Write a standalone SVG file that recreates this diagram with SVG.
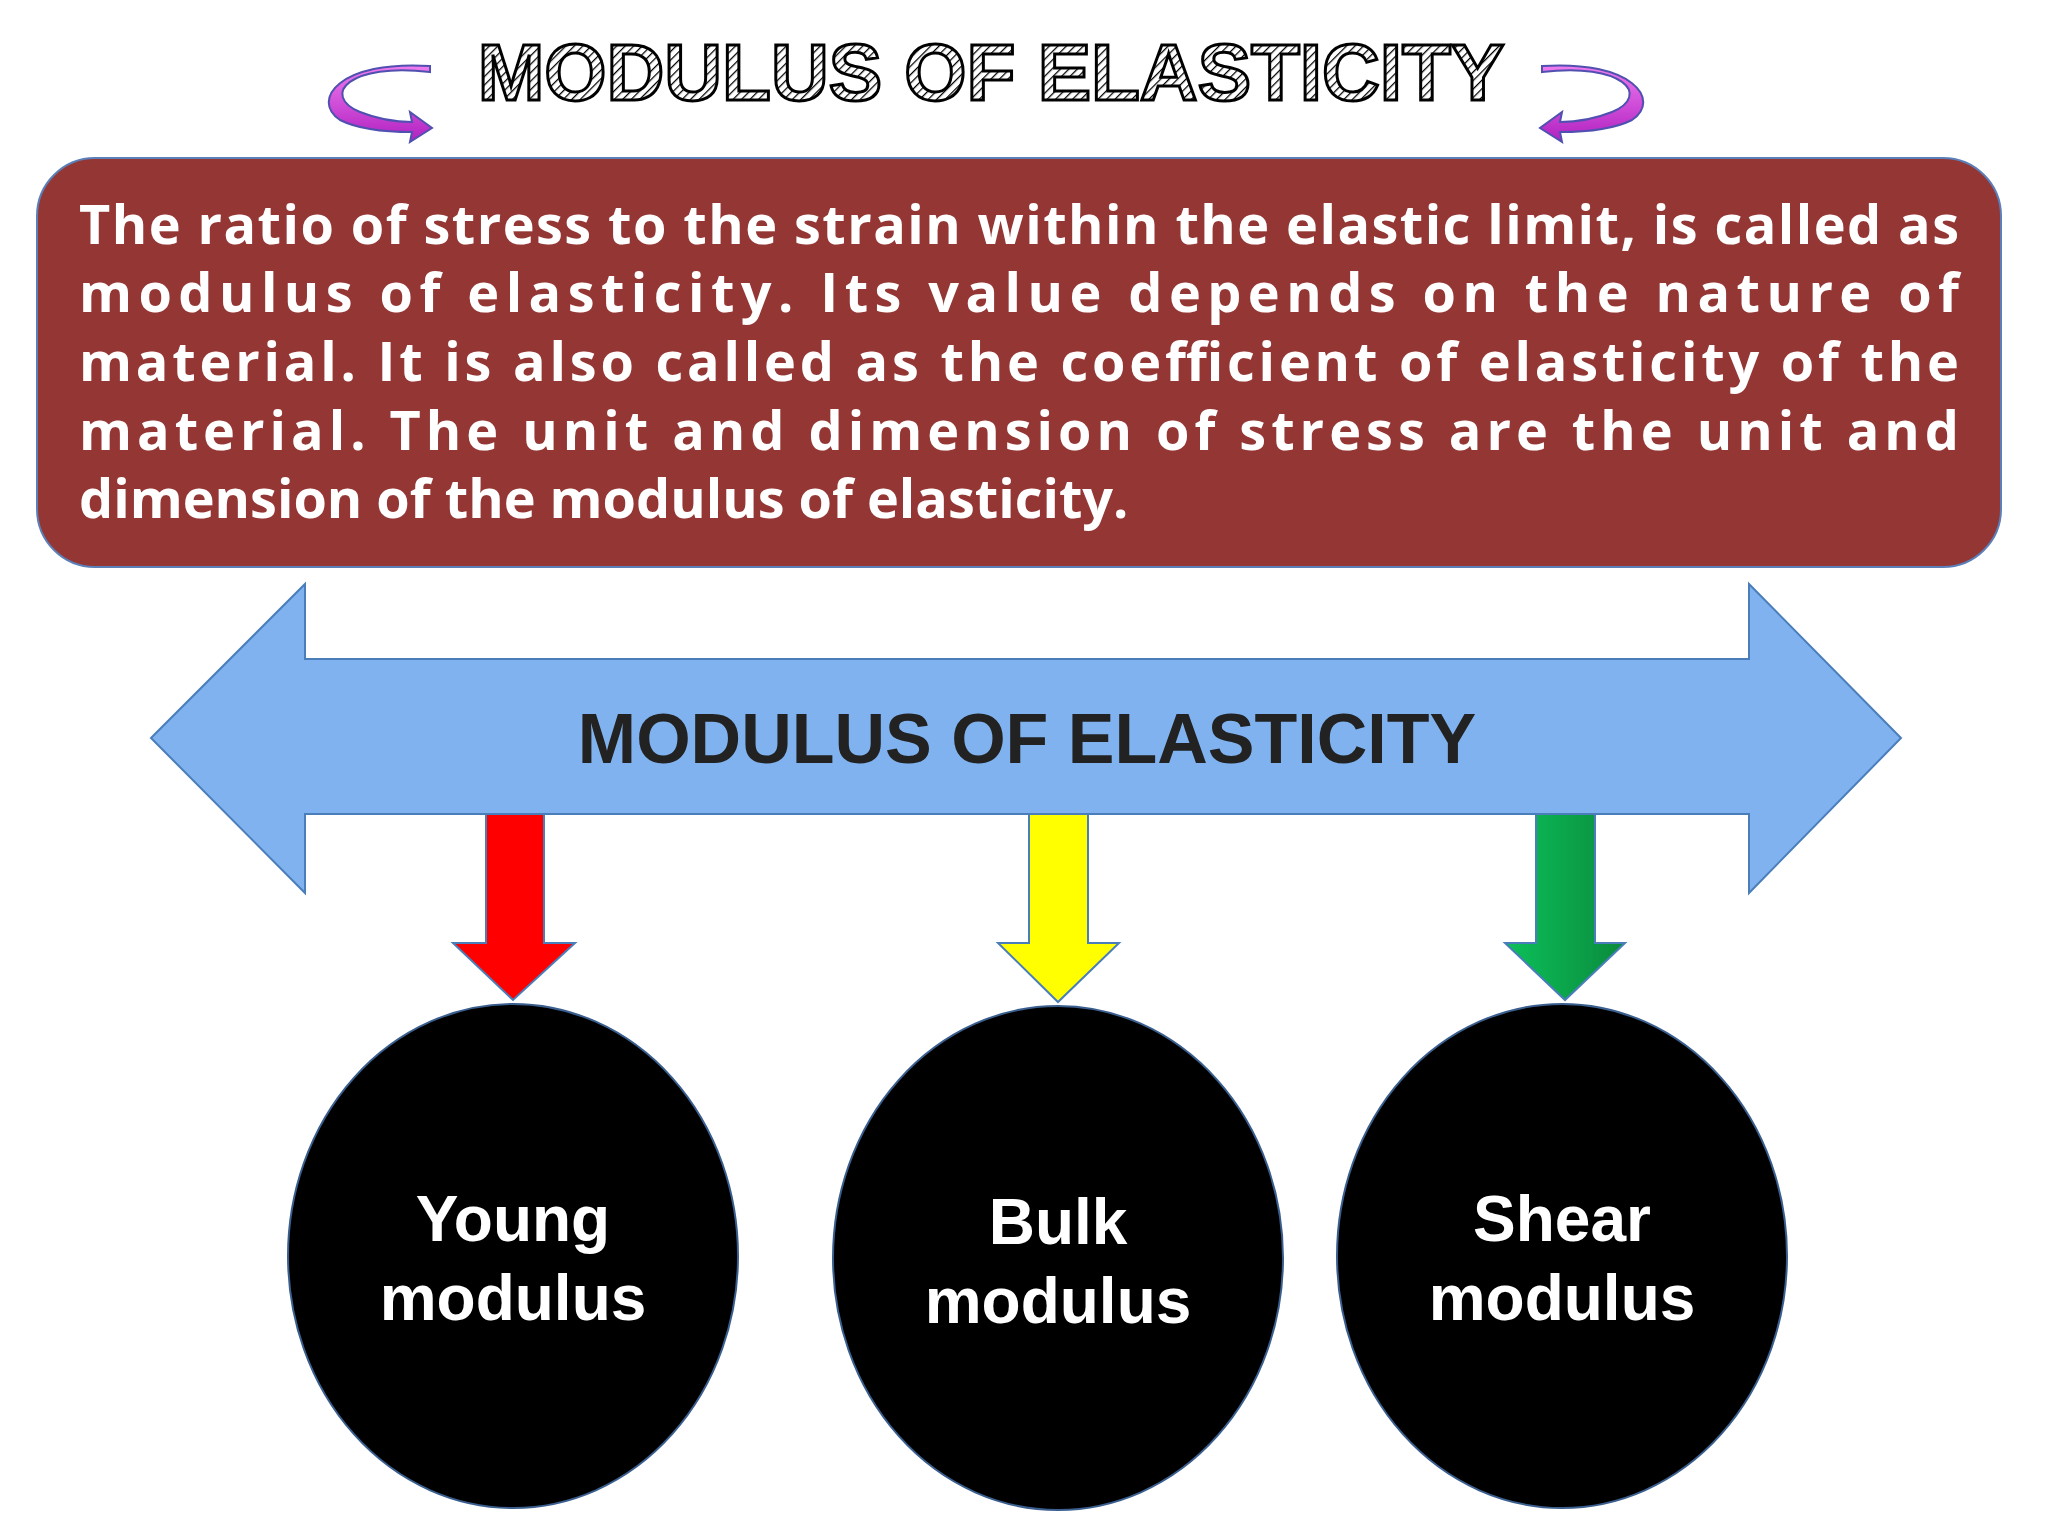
<svg xmlns="http://www.w3.org/2000/svg" width="2048" height="1536" viewBox="0 0 2048 1536">
<defs>
<pattern id="hatch" width="6" height="6" patternUnits="userSpaceOnUse" patternTransform="rotate(45)"><rect width="6" height="6" fill="#fff"/><line x1="0" y1="0" x2="0" y2="6" stroke="#000" stroke-width="2.5"/></pattern>
<linearGradient id="green" x1="0" y1="0" x2="1" y2="0"><stop offset="0" stop-color="#0cc05a"/><stop offset="1" stop-color="#0a8a3c"/></linearGradient>
<linearGradient id="mag" x1="0" y1="0" x2="0" y2="1"><stop offset="0" stop-color="#f07cf0"/><stop offset="1" stop-color="#b020c0"/></linearGradient>
<style>
.body{font-family:"Open Sans","Liberation Sans",sans-serif;font-weight:bold;font-size:54px;fill:#fff}
.circ{font-family:"Liberation Sans",Arial,sans-serif;font-weight:bold;font-size:64px;fill:#fff;text-anchor:middle}
.node{stroke:#3a5f8f;stroke-width:2}
</style>
</defs>
<rect width="2048" height="1536" fill="#fff"/>
<g id="title">
<text x="991" y="100" text-anchor="middle" font-family="Liberation Sans,Arial,sans-serif" font-weight="bold" font-size="80" fill="url(#hatch)" stroke="#000" stroke-width="3">MODULUS OF ELASTICITY</text>
<path d="M430,72 C350,62 320,95 360,112 C380,120 400,122 412,122 L410,112 L432,128 L410,142 L412,132 C390,132 360,130 340,120 C310,100 340,60 430,66 Z" fill="url(#mag)" stroke="#5050b0" stroke-width="2"/>
<path d="M1542,72 C1622,62 1652,95 1612,112 C1592,120 1572,122 1560,122 L1562,112 L1540,128 L1562,142 L1560,132 C1582,132 1612,130 1632,120 C1662,100 1632,60 1542,66 Z" fill="url(#mag)" stroke="#5050b0" stroke-width="2"/>
</g>
<g id="definition">
<rect x="37" y="158" width="1964" height="409" rx="58" fill="#943634" stroke="#5b7fb8" stroke-width="2"/>
<text class="body" x="79" y="244" textLength="1880" lengthAdjust="spacing">The ratio of stress to the strain within the elastic limit, is called as</text>
<text class="body" x="79" y="312" textLength="1880" lengthAdjust="spacing">modulus of elasticity. Its value depends on the nature of</text>
<text class="body" x="79" y="381" textLength="1880" lengthAdjust="spacing">material. It is also called as the coefficient of elasticity of the</text>
<text class="body" x="79" y="450" textLength="1880" lengthAdjust="spacing">material. The unit and dimension of stress are the unit and</text>
<text class="body" x="79" y="518">dimension of the modulus of elasticity.</text>
</g>
<g id="main-arrow">
<path d="M151,738 L305,584 L305,659 L1749,659 L1749,584 L1901,738 L1749,893 L1749,814 L305,814 L305,893 Z" fill="#7fb2ee" stroke="#4a7ebb" stroke-width="2"/>
<text x="1027" y="763" text-anchor="middle" font-family="Liberation Sans,Arial,sans-serif" font-weight="bold" font-size="70" fill="#222">MODULUS OF ELASTICITY</text>
</g>
<g id="connectors">
<path d="M486,814 L544,814 L544,943 L575,943 L513,1000 L453,943 L486,943 Z" fill="#ff0000" stroke="#4a7ebb" stroke-width="2"/>
<path d="M1029,814 L1088,814 L1088,943 L1119,943 L1058,1002 L998,943 L1029,943 Z" fill="#ffff00" stroke="#4a7ebb" stroke-width="2"/>
<path d="M1536,814 L1595,814 L1595,943 L1625,943 L1565,1000 L1505,943 L1536,943 Z" fill="url(#green)" stroke="#4a7ebb" stroke-width="2"/>
</g>
<g id="young"><ellipse class="node" cx="513" cy="1256" rx="225" ry="252" fill="#000"/><text class="circ" x="513" y="1241">Young</text><text class="circ" x="513" y="1320">modulus</text></g>
<g id="bulk"><ellipse class="node" cx="1058" cy="1258" rx="225" ry="252" fill="#000"/><text class="circ" x="1058" y="1244">Bulk</text><text class="circ" x="1058" y="1323">modulus</text></g>
<g id="shear"><ellipse class="node" cx="1562" cy="1256" rx="225" ry="252" fill="#000"/><text class="circ" x="1562" y="1241">Shear</text><text class="circ" x="1562" y="1320">modulus</text></g>
</svg>
